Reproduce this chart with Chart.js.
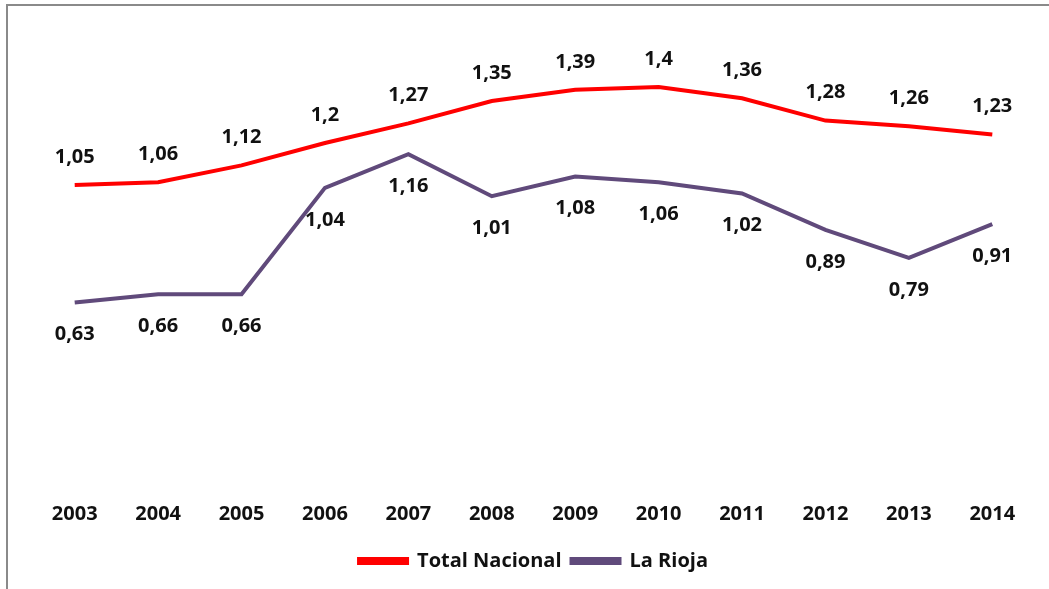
<!DOCTYPE html>
<html>
<head>
<meta charset="utf-8">
<script src="https://cdn.jsdelivr.net/npm/chart.js@4"></script>
<style>
  html, body { margin: 0; padding: 0; background: #fff; }
  #wrap { position: relative; width: 1049px; height: 589px; }
  #frame { position: absolute; left: 6px; top: 4px; right: -4px; bottom: -4px;
           border-left: 2px solid #8a8a8a; border-top: 2px solid #8a8a8a; }
  canvas { position: absolute; left: 0; top: 0; }
</style>
</head>
<body>
<div id="wrap">
  <div id="frame"></div>
  <canvas id="chart" width="1049" height="589"></canvas>
</div>
<script>
// Years on the x axis
const years = ['2003', '2004', '2005', '2006', '2007', '2008', '2009', '2010', '2011', '2012', '2013', '2014'];

// Series values
const totalNacional = [1.05, 1.06, 1.12, 1.2, 1.27, 1.35, 1.39, 1.4, 1.36, 1.28, 1.26, 1.23];
const laRioja = [0.63, 0.66, 0.66, 1.04, 1.16, 1.01, 1.08, 1.06, 1.02, 0.89, 0.79, 0.91];

const FONT = "'Open Sans', sans-serif";

// Plugin to write the value next to each point (above for the first series, below for the second)
const valueLabels = {
  id: 'valueLabels',
  afterDatasetsDraw(chart) {
    const ctx = chart.ctx;
    ctx.save();
    ctx.font = 'bold 20px ' + FONT;
    ctx.fillStyle = '#111';
    ctx.textAlign = 'center';
    ctx.textBaseline = 'middle';
    chart.data.datasets.forEach((ds, i) => {
      const meta = chart.getDatasetMeta(i);
      const shift = i === 0 ? -28 : 32;
      meta.data.forEach((pt, j) => {
        const txt = String(ds.data[j]).replace('.', ',');
        ctx.fillText(txt, pt.x, pt.y + shift);
      });
    });
    ctx.restore();
  }
};

const ctx = document.getElementById('chart').getContext('2d');
const chart = new Chart(ctx, {
  type: 'line',
  data: {
    labels: years,
    datasets: [
      {
        label: 'Total Nacional',
        data: totalNacional,
        borderColor: '#ff0000',
        backgroundColor: '#ff0000',
        borderWidth: 4,
        pointRadius: 0,
        tension: 0
      },
      {
        label: 'La Rioja',
        data: laRioja,
        borderColor: '#604a7b',
        backgroundColor: '#604a7b',
        borderWidth: 4,
        pointRadius: 0,
        tension: 0
      }
    ]
  },
  options: {
    responsive: false,
    animation: false,
    layout: {
      padding: { left: 33, right: 15, top: 31, bottom: 8 }
    },
    plugins: {
      tooltip: { enabled: false },
      legend: {
        position: 'bottom',
        labels: {
          boxWidth: 48,
          boxHeight: 4,
          padding: 10,
          color: '#111',
          font: { family: FONT, size: 20, weight: 'bold' }
        }
      }
    },
    scales: {
      x: {
        offset: true,
        grid: { display: false },
        border: { display: false },
        ticks: {
          color: '#111',
          padding: 15,
          font: { family: FONT, size: 20, weight: 'bold' }
        }
      },
      y: {
        display: false,
        min: 0,
        max: 1.6
      }
    }
  },
  plugins: [valueLabels]
});
</script>
</body>
</html>
